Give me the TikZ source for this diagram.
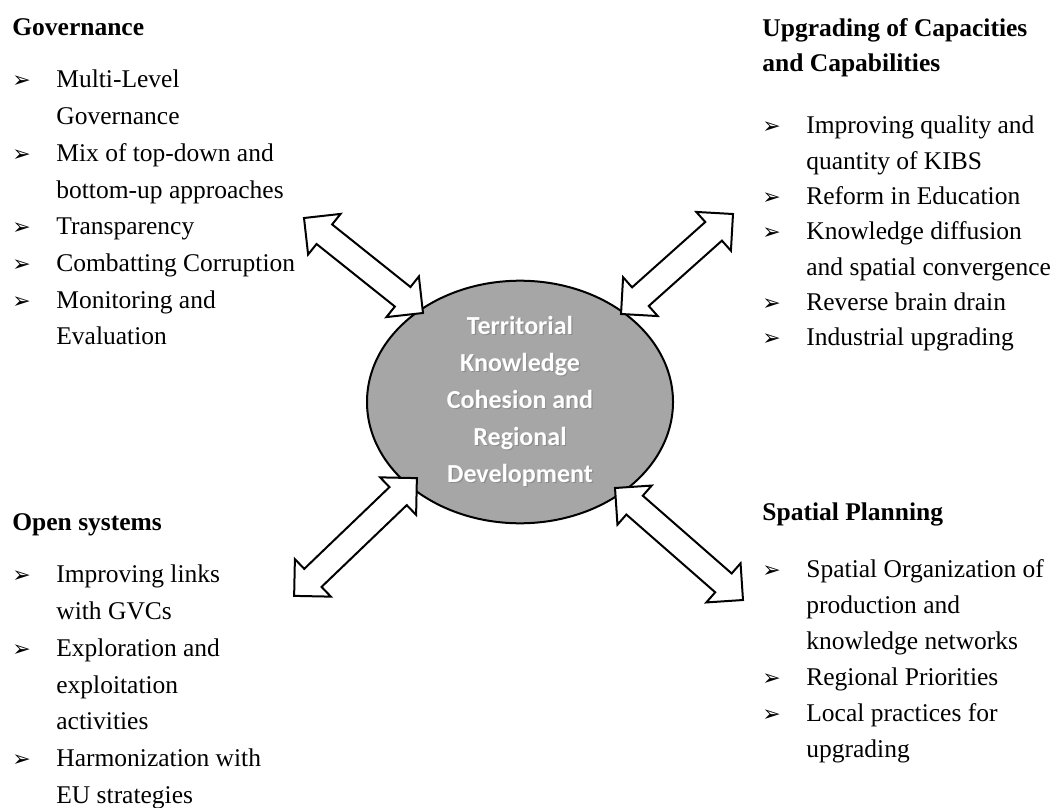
\documentclass[tikz,border=0pt]{standalone}
\usepackage{fontspec}
\setmainfont{Liberation Serif}
\newfontfamily\calfont{Carlito}
\newfontfamily\symfont{DejaVu Sans}
\usepackage{xcolor}
\definecolor{mygray}{RGB}{166,166,166}
\usetikzlibrary{calc,shapes.arrows,shapes.geometric,positioning}
\newcommand{\bul}{\makebox[22pt][l]{{\symfont\fontsize{11}{11}\selectfont ➢}}}
\newcommand{\ind}{\hspace*{22pt}}
\newcommand{\shad}[1]{\rlap{\textcolor{black!45}{\hspace{0.6pt}\raisebox{-0.6pt}{#1}}}#1}

\begin{document}
\begin{tikzpicture}[
  x=0.5pt, y=-0.5pt,
  block/.style={
    anchor=north west,
    inner sep=0pt,
    align=left,
    font=\fontsize{12.75}{#1}\selectfont
    },
  block/.default=18.35pt,
  fatarrow/.style={
    shape=double arrow,
    draw,
    fill=white,
    line width=1pt,
    inner xsep=0pt,
    inner ysep=5.75pt,
    minimum width=0pt,
    double arrow head extend=6.75pt,
    double arrow tip angle=90,
    double arrow head indent=0pt
    }
]
\useasboundingbox (0,0) rectangle (1063,807);

\node[ellipse, draw, line width=1pt, fill=mygray,
  minimum width=153pt, minimum height=111pt, inner sep=0pt,
  align=center, text=white,
  font=\calfont\bfseries\fontsize{13}{18.5}\selectfont]
  (tkc) at (520,402)
  {\shad{Territorial}\\ \shad{Knowledge}\\ \shad{Cohesion and}\\ \shad{Regional}\\ \shad{Development}};

\node[block] (gov) at (12,18)
  {\textbf{Governance}\\[8pt]
  \bul Multi-Level\\
  \ind Governance\\
  \bul Mix of top-down and\\
  \ind bottom-up approaches\\
  \bul Transparency\\
  \bul Combatting Corruption\\
  \bul Monitoring and\\
  \ind Evaluation};

\node[block=17.65pt] (upg) at (762,18)
  {\textbf{Upgrading of Capacities}\\
  \textbf{and Capabilities}\\[13.5pt]
  \bul Improving quality and\\
  \ind quantity of KIBS\\
  \bul Reform in Education\\
  \bul Knowledge diffusion\\
  \ind and spatial convergence\\
  \bul Reverse brain drain\\
  \bul Industrial upgrading};

\node[block] (open) at (12,513)
  {\textbf{Open systems}\\[8pt]
  \bul Improving links\\
  \ind with GVCs\\
  \bul Exploration and\\
  \ind exploitation\\
  \ind activities\\
  \bul Harmonization with\\
  \ind EU strategies};

\node[block=18pt] (spat) at (762,502)
  {\textbf{Spatial Planning}\\[10.5pt]
  \bul Spatial Organization of\\
  \ind production and\\
  \ind knowledge networks\\
  \bul Regional Priorities\\
  \bul Local practices for\\
  \ind upgrading};

% arrow ends
\coordinate (g1) at (304,218);
\coordinate (g2) at (423,313);
\coordinate (u1) at (733,214);
\coordinate (u2) at (621,314);
\coordinate (o1) at (294,596);
\coordinate (o2) at (417,478);
\coordinate (s1) at (743,600);
\coordinate (s2) at (615,488);

\foreach \a/\b in {g1/g2, u1/u2, o1/o2, s1/s2}
  \path let \p1=($(\b)-(\a)$) in
    node[fatarrow, minimum height={veclen(\x1,\y1)}, rotate={atan2(\y1,\x1)}]
    at ($(\a)!0.5!(\b)$) {};
\end{tikzpicture}
\end{document}
